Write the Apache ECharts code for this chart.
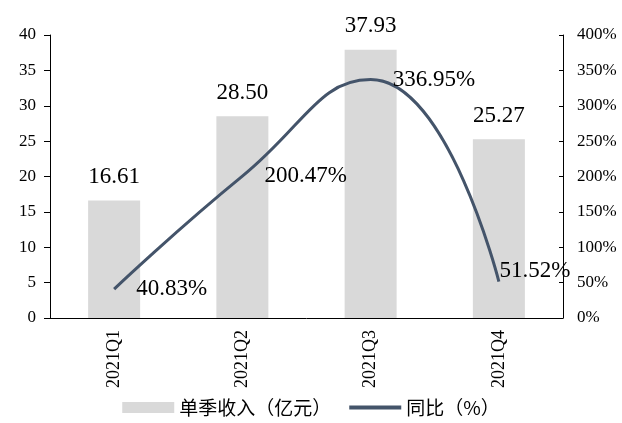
<!DOCTYPE html>
<html>
<head>
<meta charset="utf-8">
<script src="https://cdn.jsdelivr.net/npm/echarts@6/dist/echarts.min.js"></script>
<style>
  html, body { margin: 0; padding: 0; background: #fff; }
  #chart { width: 622px; height: 423px; }
</style>
</head>
<body>
<div id="chart"></div>
<script>
// 数据
var quarters = ['2021Q1', '2021Q2', '2021Q3', '2021Q4'];
var revenue = [16.61, 28.50, 37.93, 25.27];
var yoy = [40.83, 200.47, 336.95, 51.52];

var serif = '"Liberation Serif", "Times New Roman", serif';
var cjk = '"Noto Sans CJK SC", serif';

var chart = echarts.init(document.getElementById('chart'));

// 折线标签位置，最后一个点放在上方
var yoyData = yoy.map(function (v, i) {
  var item = { value: v };
  if (i === yoy.length - 1) {
    item.label = { position: 'top', offset: [36, 23] };
  }
  return item;
});

chart.setOption({
  animation: false,
  grid: { left: 50, right: 59, top: 35, bottom: 105 },
  legend: {
    bottom: 1,
    left: 'center',
    itemWidth: 52,
    itemHeight: 11,
    itemGap: 18,
    textStyle: { fontFamily: cjk, fontSize: 19, color: '#000' },
    data: [
      { name: '单季收入（亿元）', icon: 'rect' },
      { name: '同比（%）', icon: 'path://M0,3.5 L52,3.5 L52,7.5 L0,7.5 Z' }
    ]
  },
  xAxis: {
    type: 'category',
    data: quarters,
    axisLine: { lineStyle: { color: '#000', width: 1 } },
    axisTick: { alignWithLabel: true, length: 5, lineStyle: { color: '#000' } },
    axisLabel: {
      rotate: 90,
      color: '#000',
      fontFamily: serif,
      fontSize: 18,
      margin: 12
    }
  },
  yAxis: [
    {
      type: 'value',
      min: 0,
      max: 40,
      interval: 5,
      splitLine: { show: false },
      axisLine: { show: true, lineStyle: { color: '#000' } },
      axisTick: { show: true, length: 6, lineStyle: { color: '#000' } },
      axisLabel: { color: '#000', fontFamily: serif, fontSize: 17, margin: 14 }
    },
    {
      type: 'value',
      min: 0,
      max: 400,
      interval: 50,
      splitLine: { show: false },
      axisLine: { show: true, lineStyle: { color: '#000' } },
      axisTick: { show: true, inside: true, length: 4, lineStyle: { color: '#000' } },
      axisLabel: {
        color: '#000',
        fontFamily: serif,
        fontSize: 17,
        margin: 14,
        formatter: '{value}%'
      }
    }
  ],
  series: [
    {
      name: '单季收入（亿元）',
      type: 'bar',
      data: revenue,
      barWidth: 52,
      itemStyle: { color: '#d9d9d9' },
      label: {
        show: true,
        position: 'top',
        distance: 12,
        color: '#000',
        fontFamily: serif,
        fontSize: 23,
        formatter: function (p) { return p.value.toFixed(2); }
      }
    },
    {
      name: '同比（%）',
      type: 'line',
      yAxisIndex: 1,
      data: yoyData,
      smooth: 0.5,
      symbol: 'circle',
      symbolSize: 0,
      showSymbol: true,
      lineStyle: { color: '#44546a', width: 3 },
      itemStyle: { color: '#44546a' },
      label: {
        show: true,
        position: 'right',
        distance: 22,
        color: '#000',
        fontFamily: serif,
        fontSize: 23,
        formatter: function (p) { return p.value.toFixed(2) + '%'; }
      }
    }
  ]
});
</script>
</body>
</html>
